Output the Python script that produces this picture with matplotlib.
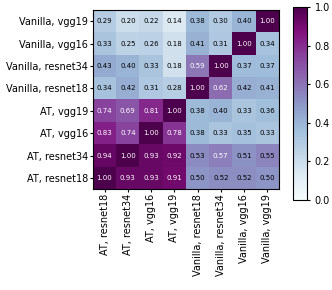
import matplotlib
matplotlib.use("Agg")
import matplotlib.pyplot as plt
import numpy as np

row_labels = ["Vanilla, vgg19", "Vanilla, vgg16", "Vanilla, resnet34", "Vanilla, resnet18",
              "AT, vgg19", "AT, vgg16", "AT, resnet34", "AT, resnet18"]
col_labels = ["AT, resnet18", "AT, resnet34", "AT, vgg16", "AT, vgg19",
              "Vanilla, resnet18", "Vanilla, resnet34", "Vanilla, vgg16", "Vanilla, vgg19"]

row_vanilla_vgg19 = [0.29, 0.20, 0.22, 0.14, 0.38, 0.30, 0.40, 1.00]
row_vanilla_vgg16 = [0.33, 0.25, 0.26, 0.18, 0.41, 0.31, 1.00, 0.34]
row_vanilla_resnet34 = [0.43, 0.40, 0.33, 0.18, 0.59, 1.00, 0.37, 0.37]
row_vanilla_resnet18 = [0.34, 0.42, 0.31, 0.28, 1.00, 0.62, 0.42, 0.41]
row_at_vgg19 = [0.74, 0.69, 0.81, 1.00, 0.38, 0.40, 0.33, 0.36]
row_at_vgg16 = [0.83, 0.74, 1.00, 0.78, 0.38, 0.33, 0.35, 0.33]
row_at_resnet34 = [0.94, 1.00, 0.93, 0.92, 0.53, 0.57, 0.51, 0.55]
row_at_resnet18 = [1.00, 0.93, 0.93, 0.91, 0.50, 0.52, 0.52, 0.50]

data = np.array([row_vanilla_vgg19, row_vanilla_vgg16, row_vanilla_resnet34, row_vanilla_resnet18,
                 row_at_vgg19, row_at_vgg16, row_at_resnet34, row_at_resnet18])

fig = plt.figure(figsize=(3.32, 2.90), dpi=100)
ax = fig.add_axes([0.280, 0.348, 0.560, 0.617])
cax = fig.add_axes([0.8825, 0.310, 0.042, 0.666])

im = ax.imshow(data, cmap="BuPu", vmin=0, vmax=1, aspect="auto")
for i in range(data.shape[0]):
    for j in range(data.shape[1]):
        v = data[i, j]
        ax.text(j, i, f"{v:.2f}", ha="center", va="center", fontsize=5,
                color="white" if v > 0.56 else "black")

ax.set_xticks(range(len(col_labels)))
ax.set_xticklabels(col_labels, rotation=90, fontsize=7)
ax.set_yticks(range(len(row_labels)))
ax.set_yticklabels(row_labels, fontsize=7)
ax.tick_params(length=2, pad=1.5)

cb = fig.colorbar(im, cax=cax)
cb.ax.tick_params(labelsize=7, length=2)
cb.set_ticks([0.0, 0.2, 0.4, 0.6, 0.8, 1.0])

fig.savefig("out.png", dpi=100)
